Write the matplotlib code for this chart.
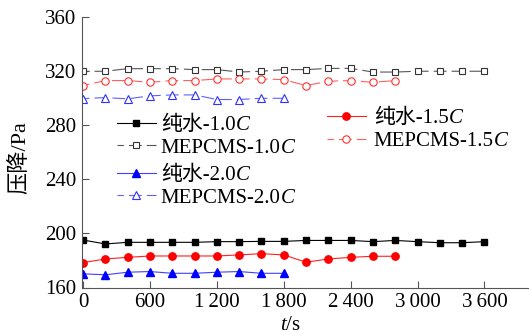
import numpy as np
import matplotlib
matplotlib.use('Agg')
import matplotlib.pyplot as plt

plt.rcParams['font.family'] = ['Liberation Serif', 'Noto Sans CJK SC']
plt.rcParams['mathtext.fontset'] = 'custom'
plt.rcParams['mathtext.rm'] = 'Liberation Serif'
plt.rcParams['mathtext.it'] = 'Liberation Serif:italic'
plt.rcParams['font.size'] = 15

# 时间 (s)
t_all = np.arange(0, 3601, 200)
t_15 = np.arange(0, 2801, 200)
t_20 = np.arange(0, 1801, 200)

# 纯水
water_10 = [195.1, 192.2, 193.4, 193.4, 193.4, 193.4, 193.9, 193.9, 194.1, 194.1,
            194.8, 194.8, 194.8, 193.9, 194.8, 193.9, 193.1, 193.1, 193.9]
water_15 = [178.4, 181.1, 182.3, 183.3, 183.3, 183.3, 183.3, 184.1, 185.0, 184.1,
            178.7, 181.1, 182.3, 183.1, 183.1]
water_20 = [170.1, 169.4, 171.3, 171.8, 170.5, 170.5, 171.3, 171.8, 170.5, 170.5]

# MEPCMS
mep_10 = [319.8, 319.9, 321.8, 321.8, 321.8, 321.1, 321.1, 319.3, 319.9, 321.1,
          321.1, 322.0, 322.0, 319.3, 319.3, 319.9, 319.9, 319.9, 319.9]
mep_15 = [309.3, 313.0, 313.0, 311.7, 313.0, 313.0, 314.2, 314.2, 314.2, 313.7,
          309.3, 312.5, 313.0, 311.7, 313.0]
mep_20 = [299.7, 300.4, 299.5, 301.7, 302.4, 302.4, 299.0, 299.0, 299.9, 299.9]

xticks = [0, 600, 1200, 1800, 2400, 3000, 3600]
xticklabels = ['0', '600', '1\u2009200', '1\u2009800', '2\u2009400', '3\u2009000', '3\u2009600']
yticks = [160, 200, 240, 280, 320, 360]

fig = plt.figure(figsize=(5.29, 3.35), dpi=100)
ax = fig.add_axes([82 / 529, 1 - 287.5 / 335, 1 - 82 / 529, (287.5 - 17) / 335])

dash = (5.8, (11.5, 4.6))
lw = 0.8

l1, = ax.plot(t_all, water_10, color='black', lw=lw, marker='s', ms=4,
              mfc='black', mec='black')
l2, = ax.plot(t_all, mep_10, color='#555555', lw=lw, ls=dash, marker='s', ms=4.5,
              mfc='white', mec='#333333', mew=0.8)
l3, = ax.plot(t_15, water_15, color='#ff2020', lw=lw, marker='o', ms=5.3,
              mfc='#ff0000', mec='#ff0000')
l4, = ax.plot(t_15, mep_15, color='#ff6060', lw=lw, ls=dash, marker='o', ms=5.3,
              mfc='white', mec='#ff3030', mew=0.8)
l5, = ax.plot(t_20, water_20, color='#4040ff', lw=lw, marker='^', ms=5.5,
              mfc='#0000ff', mec='#0000ff')
l6, = ax.plot(t_20, mep_20, color='#6060ff', lw=lw, ls=dash, marker='^', ms=5.5,
              mfc='white', mec='#3030ff', mew=0.8)

ax.set_xlim(-10, 4000)
ax.set_ylim(160, 360)
ax.set_xticks(xticks)
ax.set_xticklabels(xticklabels)
ax.set_yticks(yticks)
ax.tick_params(direction='in', length=5, width=0.8, color='#555555', pad=4)
ax.spines['top'].set_visible(False)
ax.spines['right'].set_visible(False)
for s in ['left', 'bottom']:
    ax.spines[s].set_color('#555555')
    ax.spines[s].set_linewidth(0.8)

ax.set_xlabel('$t$/s')
ax.xaxis.set_label_coords((290 - 82) / 447, -(326 - 287.5) / 270.5)
ax.xaxis.label.set_va('center')
ax.set_ylabel('压降/Pa', fontsize=16)
ax.yaxis.set_label_coords((30 - 82) / 447, 1 - (158 - 17) / 270.5)

leg_kw = dict(frameon=False, loc='center left', borderaxespad=0, borderpad=0,
              handlelength=1.85, handletextpad=0.25, labelspacing=0.15,
              bbox_transform=fig.transFigure, fontsize=15)
leg1 = ax.legend([l1, l2], ['纯水-1.0', 'MEPCMS-1.0'],
                 bbox_to_anchor=(117 / 529, 1 - 136.5 / 335), **leg_kw)
ax.add_artist(leg1)
leg2 = ax.legend([l5, l6], ['纯水-2.0', 'MEPCMS-2.0'],
                 bbox_to_anchor=(117 / 529, 1 - 186.5 / 335), **leg_kw)
ax.add_artist(leg2)
leg_kw['handletextpad'] = 0.4
leg3 = ax.legend([l3, l4], ['纯水-1.5', 'MEPCMS-1.5'],
                 bbox_to_anchor=(327 / 529, 1 - 130 / 335), **leg_kw)

fig.canvas.draw()
# 斜体 C
for leg in [leg1, leg2, leg3]:
    for txt in leg.get_texts():
        ax.annotate('C', xy=(1, 0), xycoords=txt, va='bottom', ha='left',
                    fontstyle='italic', fontsize=15, zorder=10,
                    annotation_clip=False)

fig.savefig('out.png', dpi=100)
